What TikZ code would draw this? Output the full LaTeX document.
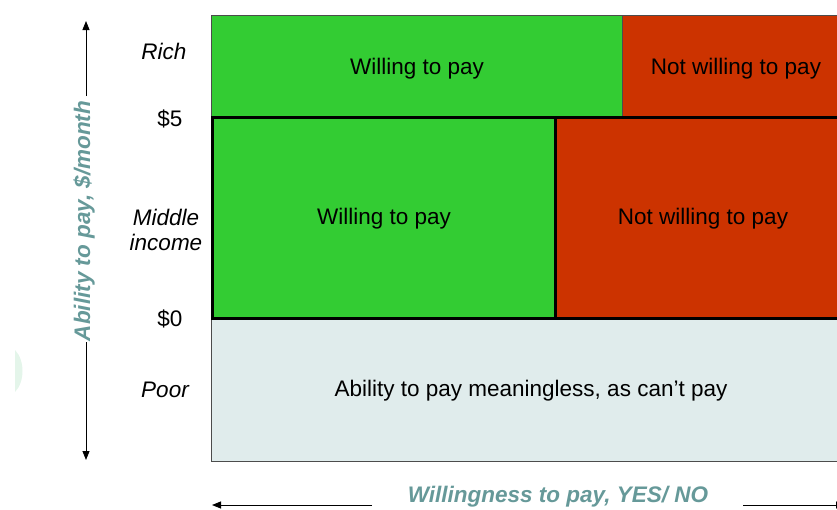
\documentclass[tikz,border=0pt]{standalone}
\usepackage{fontspec}
\setmainfont{Liberation Sans}
\usetikzlibrary{arrows.meta}
\definecolor{pgreen}{HTML}{33CC33}
\definecolor{pred}{HTML}{CC3300}
\definecolor{ppoor}{HTML}{E0ECEC}
\definecolor{pteal}{HTML}{669999}
\definecolor{pfaint}{HTML}{E4F5EA}
\tikzset{
  big/.style={font=\fontsize{22.5}{26}\selectfont},
  lbl/.style={big, text=black, inner sep=0pt},
  ilbl/.style={big, font=\fontsize{22.5}{25}\selectfont\itshape, align=center, inner sep=0pt},
  axis/.style={font=\fontsize{22.5}{26}\selectfont\bfseries\itshape, text=pteal, inner sep=4pt},
  thinbox/.style={draw=black!70, line width=0.8pt},
  thickbox/.style={draw=black, line width=3pt},
  arr/.style={-{Triangle[length=9pt,width=7pt]}, line width=0.9pt}
}
\begin{document}
\begin{tikzpicture}[x=1pt,y=-1pt]
\useasboundingbox (0,0) rectangle (837,509);
\clip (0,0) rectangle (837,509);
% faint artifact
\fill[pfaint] (15,350) .. controls (25,360) and (25,382) .. (15,392) -- cycle;
% rich band
\fill[pgreen] (211,15) rectangle (622,116);
\fill[pred] (622,15) rectangle (840,116);
\draw[thinbox] (840,15) -- (211,15) -- (211,116) -- (840,116);
\draw[thinbox] (622,15) -- (622,116);
% poor band
\fill[ppoor] (211,318) rectangle (840,461);
\draw[thinbox] (840,461) -- (211,461) -- (211,318);
% middle band
\fill[pgreen] (211,117) rectangle (555,318);
\fill[pred] (555,117) rectangle (840,318);
\draw[thickbox] (840,117) -- (212,117) -- (212,318) -- (840,318);
\draw[thickbox] (555,117) -- (555,318);
% texts in cells
\node[lbl] (rw) at (417,69) {Willing to pay};
\node[lbl] (rn) at (736,69) {Not willing to pay};
\node[lbl] (mw) at (384,219) {Willing to pay};
\node[lbl] (mn) at (703,219) {Not willing to pay};
\node[lbl] (pm) at (531,391) {Ability to pay meaningless, as can’t pay};
% row labels
\node[ilbl] (rich) at (164,51) {Rich};
\node[lbl] (five) at (170,119) {\$5};
\node[ilbl] (mid) at (166,230) {Middle\\income};
\node[lbl] (zero) at (170,319) {\$0};
\node[ilbl] (poor) at (165,390) {Poor};
% vertical axis
\node[axis, rotate=90] (ylab) at (84,221) {Ability to pay, \$/month};
\coordinate (ytop) at (86,21);
\coordinate (ybot) at (86,460);
\coordinate (yt1) at (86,96);
\coordinate (yb1) at (86,342);
\draw[arr] (yt1) -- (ytop);
\draw[arr] (yb1) -- (ybot);
% horizontal axis
\node[axis] (xlab) at (558,497) {Willingness to pay, YES/ NO};
\coordinate (xl) at (212,505);
\coordinate (xl1) at (372,505);
\coordinate (xr1) at (743,505);
\coordinate (xr) at (845,505);
\draw[arr] (xl1) -- (xl);
\draw[arr] (xr1) -- (xr);
\end{tikzpicture}
\end{document}
